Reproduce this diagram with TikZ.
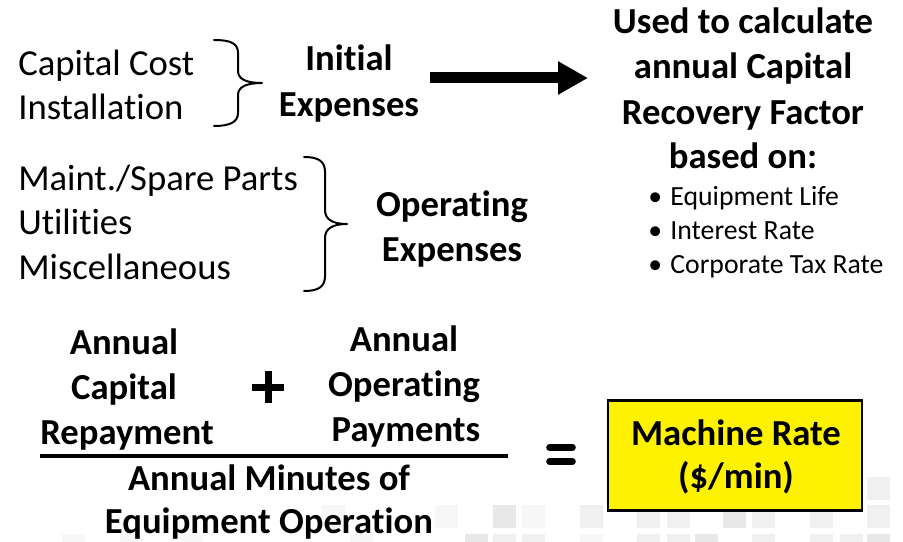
\documentclass[tikz,border=0pt]{standalone}
\usepackage{fontspec}
\setmainfont{Carlito}[Ligatures=NoCommon]
\usetikzlibrary{arrows.meta}
\begin{document}
\begin{tikzpicture}[x=0.75pt,y=-0.75pt,
  txt/.style={inner sep=0pt, anchor=base, font=\fontsize{27.5}{33.6}\selectfont},
  btxt/.style={txt, font=\fontsize{27.5}{33.6}\selectfont\bfseries},
  ltxt/.style={txt, anchor=base west},
  bul/.style={inner sep=0pt, anchor=base west, font=\fontsize{20.8}{25.5}\selectfont},
  bracestyle/.style={line width=1.5pt, line join=round, line cap=round},
  sqa/.style={fill=black!6},
  sqb/.style={fill=black!9},
  sqc/.style={fill=black!3},
  bigarrow/.style={line width=8.25pt, -{Triangle[length=22.5pt,width=23.5pt]}},
  ratebox/.style={draw, line width=1.9pt, fill=yellow, minimum width=190.5pt, minimum height=82.5pt, inner sep=0pt}
]
\useasboundingbox (0,0) rectangle (903,542);
% faint background squares
\foreach \x in {580,637,667,752,810,867} \fill[sqa] (\x,505) rectangle ++(23,23);
\foreach \x in {493,723} \fill[sqb] (\x,505) rectangle ++(23,23);
\foreach \x in {522,322,435} \fill[sqc] (\x,505) rectangle ++(23,23);
\fill[sqa] (867,477) rectangle ++(23,23);
\foreach \x in {493,522,637,667,752,810,840} \fill[sqa] (\x,534) rectangle ++(23,23);
\foreach \x in {465,695,867} \fill[sqb] (\x,534) rectangle ++(23,23);
\foreach \x in {62,120,180,350,580} \fill[sqc] (\x,534) rectangle ++(23,23);

% initial expenses
\node[ltxt] (cc) at (18,75) {Capital Cost};
\node[ltxt] (inst) at (18,119) {Installation};
\draw[bracestyle] (214,40) .. controls (230,40) and (238,43) .. (238,53) -- (238,71)
  .. controls (238,79) and (246,83) .. (262,83)
  .. controls (246,83) and (238,87) .. (238,95) -- (238,113)
  .. controls (238,122) and (230,126) .. (214,126);
\node[btxt] (ini1) at (349,71) {Initial};
\node[btxt] (ini2) at (349,116) {Expenses};

% arrow
\coordinate (aS) at (430,78);
\coordinate (aE) at (588,78);
\draw[bigarrow] (aS) -- (aE);

% right block
\node[btxt] (u1) at (743,34) {Used to calculate};
\node[btxt] (u2) at (743,79) {annual Capital};
\node[btxt] (u3) at (743,124) {Recovery Factor};
\node[btxt] (u4) at (743,168) {based on:};
\node[bul] (b1) at (648,205) {•\hspace{0.3em}Equipment Life};
\node[bul] (b2) at (648,239) {•\hspace{0.3em}Interest Rate};
\node[bul] (b3) at (648,273) {•\hspace{0.3em}Corporate Tax Rate};

% operating expenses
\node[ltxt] (m1) at (18,190) {Maint./Spare Parts};
\node[ltxt] (m2) at (18,234.5) {Utilities};
\node[ltxt] (m3) at (18,279) {Miscellaneous};
\draw[bracestyle] (304,157) .. controls (318,157) and (325,161) .. (325,172) -- (325,210)
  .. controls (325,219) and (332,224) .. (347,224)
  .. controls (332,224) and (325,229) .. (325,238) -- (325,276)
  .. controls (325,287) and (318,291) .. (304,291);
\node[btxt] (op1) at (452,216) {Operating};
\node[btxt] (op2) at (452,261) {Expenses};

% formula
\node[btxt] (a1) at (124,354) {Annual};
\node[btxt] (a2) at (124,399) {Capital};
\node[btxt] (a3) at (127,444) {Repayment};
\draw[line width=5.25pt] (252,387) -- (284,387) (268,371) -- (268,403);
\node[btxt] (r1) at (404,351) {Annual};
\node[btxt] (r2) at (404,396) {Operating};
\node[btxt] (r3) at (406,441) {Payments};
\draw[line width=3.5pt] (40,456) -- (508,456);
\node[btxt] (d1) at (269,490) {Annual Minutes of};
\node[btxt] (d2) at (269,533) {Equipment Operation};
\draw[line width=5pt, line cap=round] (549.5,447.5) -- (572.5,447.5) (549.5,461.5) -- (572.5,461.5);

% result box
\node[ratebox] (box) at (735,455.5) {};
\node[btxt] (mr1) at (736,445) {Machine Rate};
\node[btxt] (mr2) at (736,488) {(\$/min)};
\end{tikzpicture}
\end{document}
